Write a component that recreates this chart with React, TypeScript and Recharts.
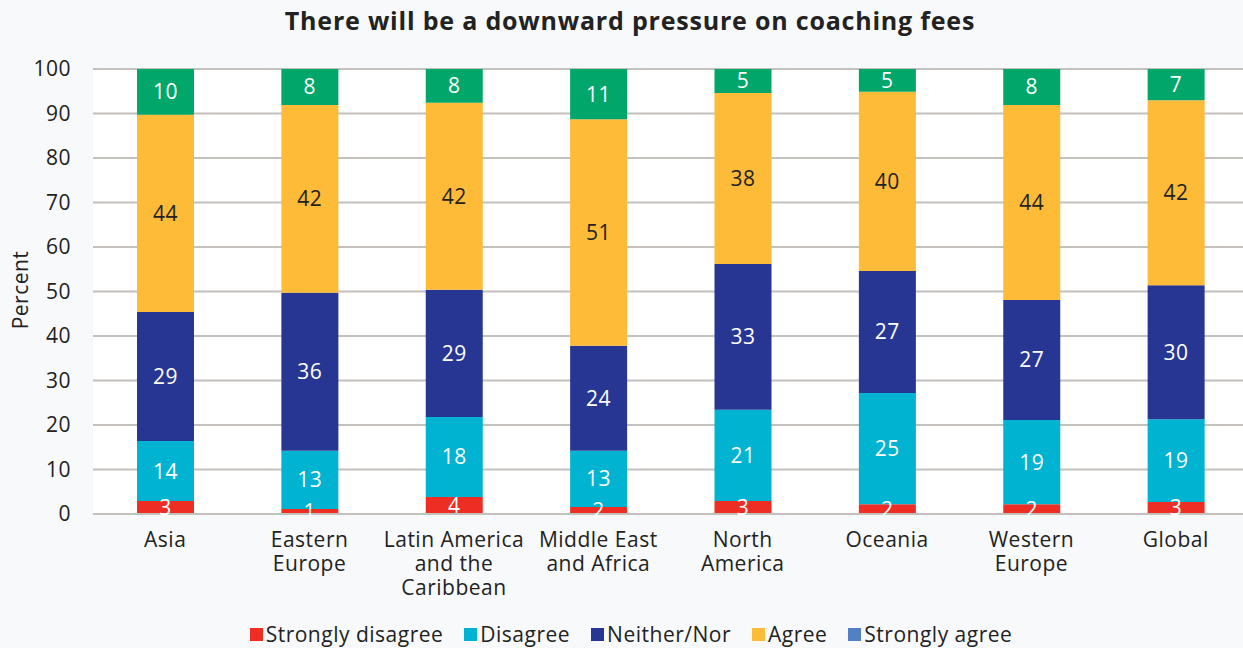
import React from 'react';
import { BarChart, Bar, XAxis, YAxis, CartesianGrid, LabelList } from 'recharts';

// region names, \n marks the line breaks in the axis labels
const regions = [
  'Asia',
  'Eastern\nEurope',
  'Latin America\nand the\nCaribbean',
  'Middle East\nand Africa',
  'North\nAmerica',
  'Oceania',
  'Western\nEurope',
  'Global',
];

const stronglyDisagree = [2.9, 1.1, 3.8, 1.6, 2.9, 2.2, 2.2, 2.7];
const disagree = [13.5, 13.1, 18.0, 12.6, 20.5, 25.0, 18.9, 18.6];
const neither = [29.0, 35.5, 28.6, 23.6, 32.8, 27.4, 27.0, 30.1];
const agree = [44.3, 42.2, 42.0, 50.9, 38.4, 40.3, 43.8, 41.6];
const stronglyAgree = [10.3, 8.1, 7.6, 11.3, 5.4, 5.1, 8.1, 7.0];

const yTicks = [0, 10, 20, 30, 40, 50, 60, 70, 80, 90, 100];

const series = [
  { key: 'sd', name: 'Strongly disagree', color: '#ee2e24', legend: '#ee2e24', text: '#fff' },
  { key: 'd', name: 'Disagree', color: '#00b3d1', legend: '#00b3d1', text: '#fff' },
  { key: 'n', name: 'Neither/Nor', color: '#273692', legend: '#273692', text: '#fff' },
  { key: 'a', name: 'Agree', color: '#fdbb38', legend: '#fdbb38', text: '#222' },
  { key: 'sa', name: 'Strongly agree', color: '#00a66a', legend: '#5380c4', text: '#fff' },
];

const data = regions.map((r, i) => ({
  region: r,
  sd: stronglyDisagree[i],
  d: disagree[i],
  n: neither[i],
  a: agree[i],
  sa: stronglyAgree[i],
}));

const FONT = '"Open Sans", Lato, sans-serif';
const LS = 0.5;

function RegionTick(props: any) {
  const { x, y, payload } = props;
  const lines = String(payload.value).split('\n');
  return (
    <text x={x} y={y} textAnchor="middle" fill="#222" fontSize={21} letterSpacing={LS} fontFamily={FONT}>
      {lines.map((l: string, i: number) => (
        <tspan key={i} x={x} dy={i === 0 ? 25 : 24}>
          {l}
        </tspan>
      ))}
    </text>
  );
}

export default function App() {
  return (
    <div
      style={{
        position: 'absolute',
        left: 0,
        top: 0,
        width: 1243,
        height: 648,
        overflow: 'hidden',
        background: '#f8f9fb',
        fontFamily: FONT,
      }}
    >
      <div
        style={{
          position: 'absolute',
          top: 3,
          left: 0,
          width: 1260,
          textAlign: 'center',
          fontSize: 25,
          letterSpacing: 0.8,
          fontWeight: 700,
          color: '#222',
        }}
      >
        There will be a downward pressure on coaching fees
      </div>
      <div
        style={{
          position: 'absolute',
          left: 20,
          top: 290,
          transform: 'translate(-50%, -50%) rotate(-90deg)',
          fontSize: 21,
          letterSpacing: LS,
          color: '#222',
          whiteSpace: 'nowrap',
        }}
      >
        Percent
      </div>
      <div style={{ position: 'absolute', left: 0, top: 0 }}>
        <BarChart
          width={1248}
          height={648}
          data={data}
          margin={{ top: 69, right: 0, left: 0, bottom: 104 }}
        >
          <CartesianGrid vertical={false} stroke="#c4c0bc" strokeWidth={2} fill="#fff" />
          <XAxis
            dataKey="region"
            height={30}
            interval={0}
            tickLine={false}
            axisLine={{ stroke: '#c4c0bc', strokeWidth: 2 }}
            tick={<RegionTick />}
          />
          <YAxis
            width={93}
            domain={[0, 100]}
            ticks={yTicks}
            tickLine={false}
            axisLine={false}
            tickMargin={16}
            tick={{ fill: '#222', fontSize: 21, letterSpacing: LS, fontFamily: FONT }}
          />
          {series.map((s) => (
            <Bar key={s.key} dataKey={s.key} name={s.name} stackId="x" fill={s.color} barSize={57} isAnimationActive={false}>
              <LabelList
                dataKey={s.key}
                position="center"
                formatter={(v: any) => Math.round(Number(v))}
                fill={s.text}
                fontSize={21}
                letterSpacing={LS}
                fontFamily={FONT}
              />
            </Bar>
          ))}
        </BarChart>
      </div>
      <div
        style={{
          position: 'absolute',
          top: 620,
          left: 0,
          width: 1262,
          display: 'flex',
          justifyContent: 'center',
          gap: 21,
          fontSize: 21,
          letterSpacing: LS,
          color: '#222',
        }}
      >
        {series.map((s) => (
          <div key={s.key} style={{ display: 'flex', alignItems: 'center' }}>
            <span style={{ width: 13, height: 13, background: s.legend, display: 'inline-block', marginRight: 3 }} />
            <span>{s.name}</span>
          </div>
        ))}
      </div>
    </div>
  );
}
